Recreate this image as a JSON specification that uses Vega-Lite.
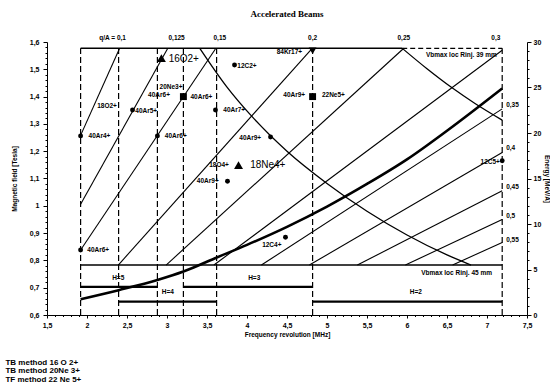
{
  "$schema": "https://vega.github.io/schema/vega-lite/v6.json",
  "width": 480,
  "height": 273,
  "autosize": {"type": "none"},
  "padding": {"left": 47, "top": 42, "right": 23, "bottom": 75},
  "background": "white",
  "title": {"text": "Accelerated Beams", "fontSize": 9, "fontWeight": "bold", "font": "Liberation Serif", "color": "black", "offset": 16, "anchor": "middle"},
  "config": {
    "view": {"stroke": null},
    "font": "Liberation Sans",
    "axis": {"grid": false, "domainColor": "black", "tickColor": "black", "labelColor": "black", "titleColor": "black", "labelFont": "Liberation Sans", "titleFont": "Liberation Sans", "labelFontWeight": "bold", "titleFontWeight": "bold", "labelFontSize": 7, "titleFontSize": 6.5, "labelOverlap": false, "domainWidth": 1, "tickWidth": 1},
    "text": {"font": "Liberation Sans", "fontWeight": "bold", "color": "black"}
  },
  "datasets": {
    "qa": [
      {"qa": "0.1", "f": 1.92, "B": 1.258}, {"qa": "0.1", "f": 2.408, "B": 1.577},
      {"qa": "0.125", "f": 1.92, "B": 1.006}, {"qa": "0.125", "f": 3.01, "B": 1.577},
      {"qa": "0.15", "f": 1.92, "B": 0.838}, {"qa": "0.15", "f": 3.611, "B": 1.577},
      {"qa": "0.2", "f": 2.391, "B": 0.783}, {"qa": "0.2", "f": 4.815, "B": 1.577},
      {"qa": "0.25", "f": 2.989, "B": 0.783}, {"qa": "0.25", "f": 5.96, "B": 1.577},
      {"qa": "0.3", "f": 3.587, "B": 0.783}, {"qa": "0.3", "f": 7.19, "B": 1.57},
      {"qa": "0.35", "f": 4.18, "B": 0.783}, {"qa": "0.35", "f": 7.19, "B": 1.355},
      {"qa": "0.4", "f": 4.78, "B": 0.783}, {"qa": "0.4", "f": 7.19, "B": 1.195},
      {"qa": "0.45", "f": 5.38, "B": 0.783}, {"qa": "0.45", "f": 7.19, "B": 1.055},
      {"qa": "0.5", "f": 5.98, "B": 0.783}, {"qa": "0.5", "f": 7.19, "B": 0.95},
      {"qa": "0.55", "f": 6.57, "B": 0.783}, {"qa": "0.55", "f": 7.19, "B": 0.866}
    ],
    "curve": [
      {"f": 1.92, "B": 0.658}, {"f": 2.395, "B": 0.691}, {"f": 2.88, "B": 0.728}, {"f": 3.205, "B": 0.759},
      {"f": 3.6, "B": 0.808}, {"f": 4.0, "B": 0.857}, {"f": 4.5, "B": 0.923}, {"f": 5.0, "B": 0.997},
      {"f": 5.5, "B": 1.08}, {"f": 6.0, "B": 1.17}, {"f": 6.5, "B": 1.275}, {"f": 7.19, "B": 1.43}
    ],
    "vb": [
      {"c": "45", "f": 3.41, "B": 1.577}, {"c": "45", "f": 3.75, "B": 1.435}, {"c": "45", "f": 4.044, "B": 1.333},
      {"c": "45", "f": 4.5, "B": 1.2}, {"c": "45", "f": 5.0, "B": 1.082}, {"c": "45", "f": 5.5, "B": 0.98},
      {"c": "45", "f": 6.0, "B": 0.893}, {"c": "45", "f": 6.5, "B": 0.82}, {"c": "45", "f": 6.8, "B": 0.783},
      {"c": "39", "f": 5.94, "B": 1.577}, {"c": "39", "f": 6.25, "B": 1.502}, {"c": "39", "f": 6.55, "B": 1.435},
      {"c": "39", "f": 6.85, "B": 1.375}, {"c": "39", "f": 7.19, "B": 1.314}
    ],
    "frame": [
      {"seg": "top", "f": 1.92, "B": 1.577}, {"seg": "top", "f": 5.94, "B": 1.577},
      {"seg": "bottom", "f": 1.92, "B": 0.783}, {"seg": "bottom", "f": 7.19, "B": 0.783}
    ],
    "frameDash": [
      {"seg": "top", "f": 5.94, "B": 1.577}, {"seg": "top", "f": 7.19, "B": 1.577}
    ],
    "verts": [
      {"f": 1.92, "B1": 0.6, "B2": 1.577}, {"f": 2.395, "B1": 0.6, "B2": 1.577}, {"f": 2.88, "B1": 0.6, "B2": 1.577},
      {"f": 3.205, "B1": 0.6, "B2": 1.577}, {"f": 3.62, "B1": 0.6, "B2": 1.577}, {"f": 4.82, "B1": 0.6, "B2": 1.577},
      {"f": 7.19, "B1": 0.6, "B2": 1.577}
    ],
    "bars": [
      {"f": 1.92, "f2": 2.88, "B": 0.703}, {"f": 3.205, "f2": 4.82, "B": 0.703},
      {"f": 2.395, "f2": 3.62, "B": 0.649}, {"f": 4.82, "f2": 7.19, "B": 0.649}
    ],
    "circles": [
      {"f": 1.92, "B": 1.256}, {"f": 1.92, "B": 0.838}, {"f": 2.569, "B": 1.351}, {"f": 2.88, "B": 1.256},
      {"f": 3.606, "B": 1.351}, {"f": 3.844, "B": 1.516}, {"f": 4.294, "B": 1.252}, {"f": 3.756, "B": 1.09},
      {"f": 4.481, "B": 0.885}, {"f": 7.19, "B": 1.165}
    ],
    "squares": [{"f": 3.205, "B": 1.4}, {"f": 4.82, "B": 1.4}],
    "triangles": [{"f": 2.93, "B": 1.541}, {"f": 3.894, "B": 1.149}],
    "downtri": [{"f": 4.82, "B": 1.568}],
    "labels": [
      {"label": "40Ar4+", "f": 2.156, "B": 1.256},
      {"label": "18O2+", "f": 2.25, "B": 1.366},
      {"label": "40Ar5+", "f": 2.74, "B": 1.347},
      {"label": "40Ar6+", "f": 3.11, "B": 1.256},
      {"label": "20Ne3+", "f": 3.05, "B": 1.436},
      {"label": "40Ar6+", "f": 2.9, "B": 1.406},
      {"label": "40Ar6+", "f": 3.43, "B": 1.4},
      {"label": "40Ar7+", "f": 3.84, "B": 1.351},
      {"label": "12C2+", "f": 4.0, "B": 1.512},
      {"label": "84Kr17+", "f": 4.53, "B": 1.564},
      {"label": "40Ar9+", "f": 4.59, "B": 1.406},
      {"label": "22Ne5+", "f": 5.08, "B": 1.406},
      {"label": "40Ar9+", "f": 4.04, "B": 1.249},
      {"label": "18O4+", "f": 3.65, "B": 1.149},
      {"label": "40Ar9+", "f": 3.51, "B": 1.092},
      {"label": "12C4+", "f": 4.31, "B": 0.856},
      {"label": "12C5+", "f": 7.04, "B": 1.162},
      {"label": "40Ar6+", "f": 2.14, "B": 0.838},
      {"label": "H=5", "f": 2.39, "B": 0.737},
      {"label": "H=4", "f": 3.01, "B": 0.685},
      {"label": "H=3", "f": 4.09, "B": 0.737},
      {"label": "H=2", "f": 6.11, "B": 0.685},
      {"label": "Vbmax loc Rinj. 39 mm", "f": 6.68, "B": 1.552},
      {"label": "Vbmax loc Rinj. 45 mm", "f": 6.62, "B": 0.755},
      {"label": "q/A = 0,1", "f": 2.32, "B": 1.6147},
      {"label": "0,125", "f": 3.12, "B": 1.6147},
      {"label": "0,15", "f": 3.66, "B": 1.6147},
      {"label": "0,2", "f": 4.82, "B": 1.6147},
      {"label": "0,25", "f": 5.96, "B": 1.6147},
      {"label": "0,3", "f": 7.11, "B": 1.6147}
    ],
    "bigLabels": [
      {"label": "16O2+", "f": 3.21, "B": 1.539},
      {"label": "18Ne4+", "f": 4.26, "B": 1.149}
    ],
    "rightLabels": [
      {"label": "0,35", "f": 7.24, "B": 1.369},
      {"label": "0,4", "f": 7.24, "B": 1.212},
      {"label": "0,45", "f": 7.24, "B": 1.068},
      {"label": "0,5", "f": 7.24, "B": 0.963},
      {"label": "0,55", "f": 7.24, "B": 0.875}
    ],
    "notes": [
      {"label": "TB method 16 O 2+", "f": 0.981, "B": 0.4242},
      {"label": "TB method  20Ne 3+", "f": 0.981, "B": 0.3949},
      {"label": "TF method  22 Ne 5+", "f": 0.981, "B": 0.3637}
    ],
    "axisFrame": [{"f": 1.5, "B": 0.6}, {"f": 7.5, "B": 1.6}],
    "energy": [{"E": 0}, {"E": 30}]
  },
  "layer": [
    {
      "layer": [
        {
          "data": {"name": "verts"},
          "mark": {"type": "rule", "color": "black", "strokeWidth": 1.2, "strokeDash": [6, 3]},
          "encoding": {
            "x": {"field": "f", "type": "quantitative", "scale": {"domain": [1.5, 7.5], "nice": false, "zero": false}, "axis": null},
            "y": {"field": "B1", "type": "quantitative", "scale": {"domain": [0.6, 1.6], "nice": false, "zero": false}, "axis": null},
            "y2": {"field": "B2"}
          }
        },
        {
          "data": {"name": "qa"},
          "mark": {"type": "line", "color": "black", "strokeWidth": 1.1},
          "encoding": {"x": {"field": "f", "type": "quantitative", "axis": null}, "y": {"field": "B", "type": "quantitative", "axis": null}, "detail": {"field": "qa"}}
        },
        {
          "data": {"name": "vb"},
          "mark": {"type": "line", "color": "black", "strokeWidth": 1.3, "interpolate": "monotone"},
          "encoding": {"x": {"field": "f", "type": "quantitative", "axis": null}, "y": {"field": "B", "type": "quantitative", "axis": null}, "detail": {"field": "c"}}
        },
        {
          "data": {"name": "curve"},
          "mark": {"type": "line", "color": "black", "strokeWidth": 2.6, "interpolate": "monotone"},
          "encoding": {"x": {"field": "f", "type": "quantitative", "axis": null}, "y": {"field": "B", "type": "quantitative", "axis": null}}
        },
        {
          "data": {"name": "frame"},
          "mark": {"type": "line", "color": "black", "strokeWidth": 1.4},
          "encoding": {"x": {"field": "f", "type": "quantitative", "axis": null}, "y": {"field": "B", "type": "quantitative", "axis": null}, "detail": {"field": "seg"}}
        },
        {
          "data": {"name": "frameDash"},
          "mark": {"type": "line", "color": "black", "strokeWidth": 1.3, "strokeDash": [5, 3]},
          "encoding": {"x": {"field": "f", "type": "quantitative", "axis": null}, "y": {"field": "B", "type": "quantitative", "axis": null}}
        },
        {
          "data": {"name": "bars"},
          "mark": {"type": "rule", "color": "black", "strokeWidth": 2.2},
          "encoding": {"x": {"field": "f", "type": "quantitative", "axis": null}, "x2": {"field": "f2"}, "y": {"field": "B", "type": "quantitative", "axis": null}}
        },
        {
          "data": {"name": "circles"},
          "mark": {"type": "point", "shape": "circle", "filled": true, "color": "black", "size": 24, "opacity": 1},
          "encoding": {"x": {"field": "f", "type": "quantitative", "axis": null}, "y": {"field": "B", "type": "quantitative", "axis": null}}
        },
        {
          "data": {"name": "squares"},
          "mark": {"type": "point", "shape": "square", "filled": true, "color": "black", "size": 48, "opacity": 1},
          "encoding": {"x": {"field": "f", "type": "quantitative", "axis": null}, "y": {"field": "B", "type": "quantitative", "axis": null}}
        },
        {
          "data": {"name": "triangles"},
          "mark": {"type": "point", "shape": "triangle-up", "filled": true, "color": "black", "size": 80, "opacity": 1},
          "encoding": {"x": {"field": "f", "type": "quantitative", "axis": null}, "y": {"field": "B", "type": "quantitative", "axis": null}}
        },
        {
          "data": {"name": "downtri"},
          "mark": {"type": "point", "shape": "triangle-down", "filled": true, "color": "black", "size": 60, "opacity": 1},
          "encoding": {"x": {"field": "f", "type": "quantitative", "axis": null}, "y": {"field": "B", "type": "quantitative", "axis": null}}
        },
        {
          "data": {"name": "labels"},
          "mark": {"type": "text", "fontSize": 6.5, "align": "center", "baseline": "middle"},
          "encoding": {"x": {"field": "f", "type": "quantitative", "axis": null}, "y": {"field": "B", "type": "quantitative", "axis": null}, "text": {"field": "label"}}
        },
        {
          "data": {"name": "bigLabels"},
          "mark": {"type": "text", "fontSize": 10, "align": "center", "baseline": "middle", "fontWeight": "normal"},
          "encoding": {"x": {"field": "f", "type": "quantitative", "axis": null}, "y": {"field": "B", "type": "quantitative", "axis": null}, "text": {"field": "label"}}
        },
        {
          "data": {"name": "rightLabels"},
          "mark": {"type": "text", "fontSize": 6.5, "align": "left", "baseline": "middle"},
          "encoding": {"x": {"field": "f", "type": "quantitative", "axis": null}, "y": {"field": "B", "type": "quantitative", "axis": null}, "text": {"field": "label"}}
        },
        {
          "data": {"name": "notes"},
          "mark": {"type": "text", "fontSize": 8, "align": "left", "baseline": "middle"},
          "encoding": {"x": {"field": "f", "type": "quantitative", "axis": null}, "y": {"field": "B", "type": "quantitative", "axis": null}, "text": {"field": "label"}}
        }
      ]
    },
    {
      "data": {"name": "axisFrame"},
      "mark": {"type": "point", "opacity": 0},
      "encoding": {
        "x": {"field": "f", "type": "quantitative", "scale": {"domain": [1.5, 7.5], "nice": false, "zero": false},
          "axis": {"title": "Frequency revolution [MHz]", "values": [1.5,1.6,1.7,1.8,1.9,2,2.1,2.2,2.3,2.4,2.5,2.6,2.7,2.8,2.9,3,3.1,3.2,3.3,3.4,3.5,3.6,3.7,3.8,3.9,4,4.1,4.2,4.3,4.4,4.5,4.6,4.7,4.8,4.9,5,5.1,5.2,5.3,5.4,5.5,5.6,5.7,5.8,5.9,6,6.1,6.2,6.3,6.4,6.5,6.6,6.7,6.8,6.9,7,7.1,7.2,7.3,7.4,7.5],
            "labelExpr": "abs(datum.value*2-round(datum.value*2))<0.001 ? replace(format(datum.value,'~g'),'.',',') : ''",
            "tickSize": {"condition": {"test": "abs(datum.value*2-round(datum.value*2))<0.001", "value": 3}, "value": 1.5},
            "labelOverlap": false, "labelFlush": false, "labelPadding": 3, "titlePadding": 3}},
        "y": {"field": "B", "type": "quantitative", "scale": {"domain": [0.6, 1.6], "nice": false, "zero": false},
          "axis": {"title": "Magnetic field [Tesla]", "values": [0.6,0.62,0.64,0.66,0.68,0.7,0.72,0.74,0.76,0.78,0.8,0.82,0.84,0.86,0.88,0.9,0.92,0.94,0.96,0.98,1,1.02,1.04,1.06,1.08,1.1,1.12,1.14,1.16,1.18,1.2,1.22,1.24,1.26,1.28,1.3,1.32,1.34,1.36,1.38,1.4,1.42,1.44,1.46,1.48,1.5,1.52,1.54,1.56,1.58,1.6],
            "labelExpr": "abs(datum.value*10-round(datum.value*10))<0.001 ? replace(format(datum.value,'~g'),'.',',') : ''",
            "tickSize": {"condition": {"test": "abs(datum.value*10-round(datum.value*10))<0.001", "value": 4}, "value": 2},
            "labelOverlap": false, "labelFlush": false, "labelPadding": 4, "titlePadding": 12}}
      }
    },
    {
      "data": {"name": "energy"},
      "mark": {"type": "point", "opacity": 0},
      "encoding": {
        "y": {"field": "E", "type": "quantitative", "scale": {"domain": [0, 30], "nice": false},
          "axis": {"orient": "right", "title": "Energy [MeV/A]", "values": [0,1,2,3,4,5,6,7,8,9,10,11,12,13,14,15,16,17,18,19,20,21,22,23,24,25,26,27,28,29,30],
            "labelExpr": "datum.value % 5 === 0 ? format(datum.value,'d') : ''",
            "tickSize": {"condition": {"test": "datum.value % 5 === 0", "value": 4}, "value": 2},
            "labelOverlap": false, "labelFlush": false, "labelPadding": 2, "titlePadding": 3}}
      }
    }
  ],
  "resolve": {"scale": {"x": "independent", "y": "independent"}}
}
